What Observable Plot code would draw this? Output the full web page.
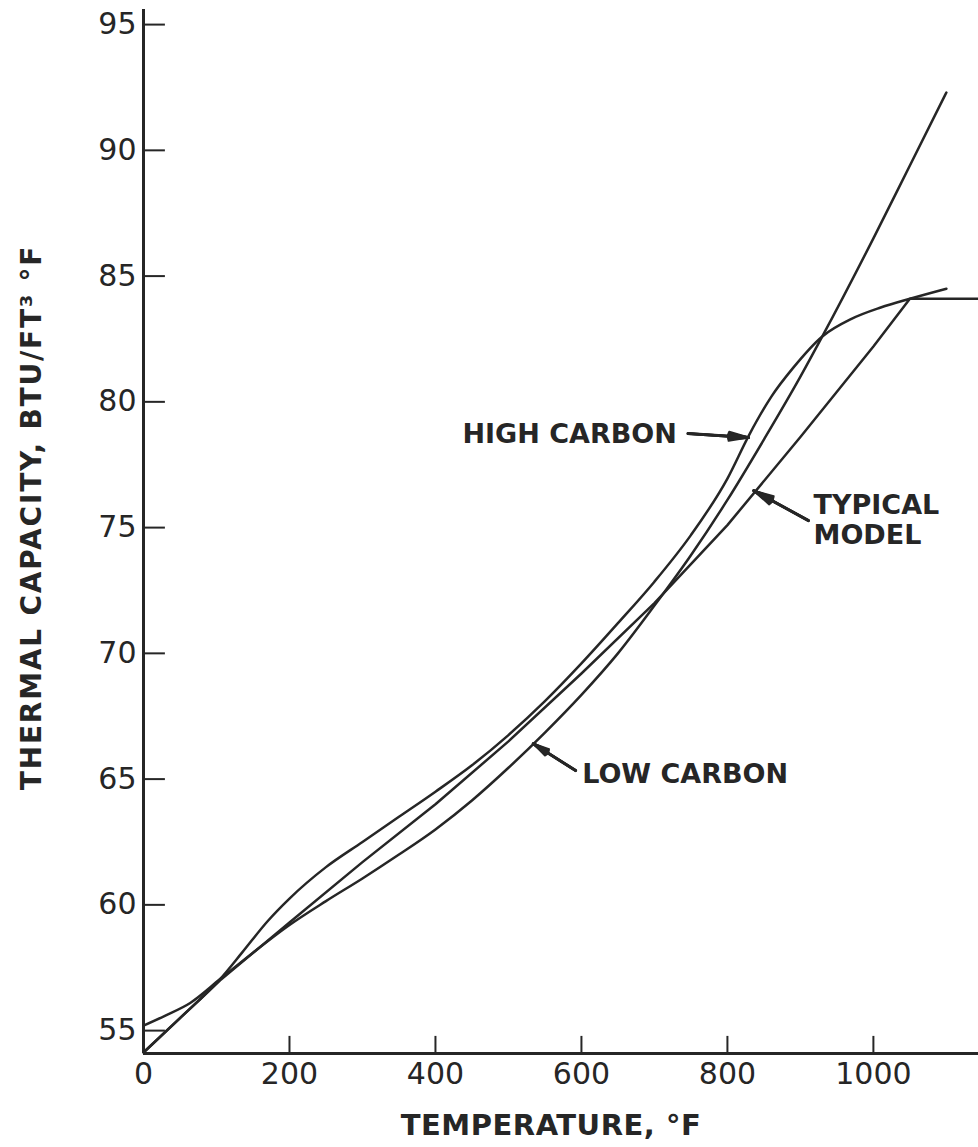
<!DOCTYPE html>
<html>
<head>
<meta charset="utf-8">
<script src="https://cdn.jsdelivr.net/npm/d3@7"></script>
<script src="https://cdn.jsdelivr.net/npm/@observablehq/plot@0.6"></script>
<style>
  body { margin: 0; background: #fff; }
  #chart svg { display: block; }
  .ytitle text { letter-spacing: 1.8px; }
  .xtitle text { letter-spacing: 0.5px; }
</style>
</head>
<body>
<div id="chart"></div>
<script>
// Axis ticks
const xTicks = [0, 200, 400, 600, 800, 1000];
const yTicks = [55, 60, 65, 70, 75, 80, 85, 90, 95];

// High carbon steel: temperature (°F) and thermal capacity (BTU/ft³·°F)
const highTemp = [0, 50, 105, 135, 170, 200, 250, 300, 350, 400, 450, 500, 550, 600, 650, 700, 750, 800, 830, 860, 890, 930, 970, 1010, 1050, 1100];
const highCap  = [54.13, 55.5, 57.05, 58.1, 59.35, 60.25, 61.5, 62.5, 63.5, 64.5, 65.55, 66.75, 68.1, 69.6, 71.2, 72.85, 74.7, 76.95, 78.7, 80.2, 81.35, 82.6, 83.3, 83.75, 84.1, 84.5];

// Low carbon steel
const lowTemp = [0, 30, 64, 105, 150, 200, 250, 300, 350, 400, 450, 500, 550, 600, 650, 700, 750, 800, 850, 900, 930, 1000, 1050, 1100];
const lowCap  = [55.2, 55.6, 56.1, 57.05, 58.1, 59.2, 60.15, 61.05, 62.0, 63.0, 64.15, 65.45, 66.85, 68.35, 70.0, 71.9, 73.9, 76.1, 78.5, 81.0, 82.6, 86.5, 89.4, 92.3];

// Typical model, constant above 1050 °F
const modelTemp = [0, 105, 200, 300, 400, 500, 600, 700, 800, 900, 1000, 1050, 1144];
const modelCap  = [54.13, 57.0, 59.3, 61.7, 64.0, 66.5, 69.2, 72.0, 75.1, 78.6, 82.2, 84.1, 84.1];

// Curve labels and their leader arrows (data units)
const labelText = ["HIGH CARBON", "LOW CARBON", "TYPICAL", "MODEL"];
const labelTemp = [437, 601, 918, 918];
const labelCap  = [78.7, 65.2, 75.88, 74.68];
const arrowTailTemp = [746, 592, 911];
const arrowTailCap  = [78.74, 65.34, 75.28];
const arrowTipTemp  = [829, 534, 836];
const arrowTipCap   = [78.58, 66.41, 76.47];

const ink = "#262626";
const yMin = 54.09, yMax = 95.6, xMax = 1144;

const rows = (T, V) => T.map((t, i) => ({t, v: V[i]}));
const labels = labelText.map((s, i) => ({s, t: labelTemp[i], v: labelCap[i]}));
const arrows = arrowTailTemp.map((t, i) => ({t1: t, v1: arrowTailCap[i], t2: arrowTipTemp[i], v2: arrowTipCap[i]}));

// Several nested arrowheads of decreasing spread give a solid, narrow head
const arrowMark = (angle, len, w) => Plot.arrow(arrows, {
  x1: "t1", y1: "v1", x2: "t2", y2: "v2",
  stroke: ink, strokeWidth: w, headAngle: angle, headLength: len
});

const chart = Plot.plot({
  width: 978,
  height: 1147,
  marginLeft: 143,
  marginRight: 0,
  marginTop: 9,
  marginBottom: 94,
  x: {domain: [0, xMax]},
  y: {domain: [yMin, yMax]},
  style: {fontFamily: "'DejaVu Sans', sans-serif", fontSize: "30px", color: ink, background: "#fff", overflow: "visible"},
  marks: [
    // tick labels
    Plot.axisX(xTicks, {tickSize: 0, tickPadding: 9, fontSize: 30, tickFormat: d => String(d), label: null}),
    Plot.axisY(yTicks, {tickSize: 0, tickPadding: 7, fontSize: 30, tickFormat: d => String(d), label: null}),
    // inward tick marks
    Plot.ruleY(yTicks, {y: d => d, x1: () => 0, x2: () => 30, stroke: ink, strokeWidth: 2}),
    Plot.ruleX(xTicks.filter(d => d > 0), {x: d => d, y1: () => yMin, y2: () => yMin + 0.68, stroke: ink, strokeWidth: 2}),
    // axis lines
    Plot.ruleX([0], {stroke: ink, strokeWidth: 3}),
    Plot.ruleY([yMin], {stroke: ink, strokeWidth: 3}),
    // curves
    Plot.line(rows(modelTemp, modelCap), {x: "t", y: "v", stroke: ink, strokeWidth: 2.5, curve: "linear"}),
    Plot.line(rows(lowTemp, lowCap), {x: "t", y: "v", stroke: ink, strokeWidth: 2.5, curve: "monotone-x"}),
    Plot.line(rows(highTemp, highCap), {x: "t", y: "v", stroke: ink, strokeWidth: 2.5, curve: "monotone-x"}),
    // leader arrows
    arrowMark(26, 26, 2),
    arrowMark(18, 25, 2.4),
    arrowMark(10, 24, 2.8),
    arrowMark(4, 24, 3),
    // curve labels
    Plot.text(labels, {x: "t", y: "v", text: "s", textAnchor: "start", lineAnchor: "middle", fontSize: 27, fontWeight: "bold", fill: ink}),
    // axis titles
    Plot.text(["THERMAL CAPACITY, BTU/FT\u00B3 \u00B0F"], {text: d => d, frameAnchor: "left", textAnchor: "middle", lineAnchor: "middle", rotate: -90, dx: -111, dy: -14, fontSize: 28, fontWeight: "bold", fill: ink, className: "ytitle"}),
    Plot.text(["TEMPERATURE, \u00B0F"], {text: d => d, frameAnchor: "bottom", textAnchor: "middle", lineAnchor: "middle", dx: -10, dy: 72, fontSize: 29, fontWeight: "bold", fill: ink, className: "xtitle"})
  ]
});

document.getElementById("chart").appendChild(chart);
</script>
</body>
</html>
